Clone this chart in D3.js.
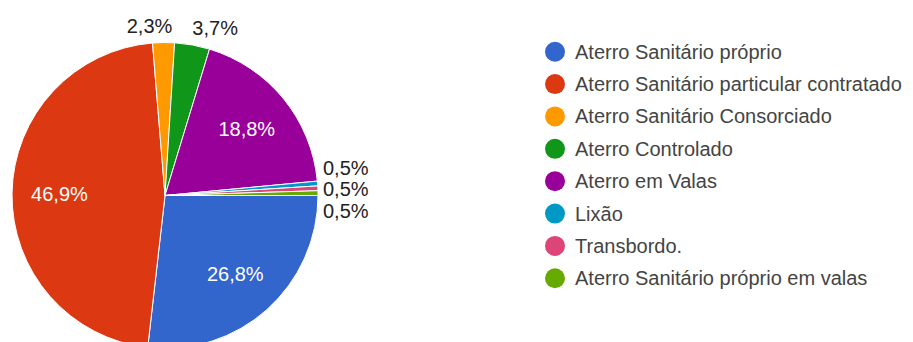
<!DOCTYPE html>
<html>
<head>
<meta charset="utf-8">
<script src="https://cdn.jsdelivr.net/npm/d3@7/dist/d3.min.js"></script>
<style>
  html, body { margin: 0; padding: 0; background: #ffffff; }
  svg { display: block; }
  text { font-family: "Liberation Sans", Arial, sans-serif; }
</style>
</head>
<body>
<svg id="chart" width="913" height="342"></svg>
<script>
const categories = [
  "Aterro Sanitário próprio",
  "Aterro Sanitário particular contratado",
  "Aterro Sanitário Consorciado",
  "Aterro Controlado",
  "Aterro em Valas",
  "Lixão",
  "Transbordo.",
  "Aterro Sanitário próprio em valas"
];
const values = [26.8, 46.9, 2.3, 3.7, 18.8, 0.5, 0.5, 0.5];
const labels = ["26,8%", "46,9%", "2,3%", "3,7%", "18,8%", "0,5%", "0,5%", "0,5%"];
const colors = ["#3366cc", "#dc3912", "#ff9900", "#109618", "#990099", "#0099c6", "#dd4477", "#66aa00"];

const svg = d3.select("#chart");
const cx = 165, cy = 195.5, R = 153;

const pie = d3.pie().sort(null).value(d => d)
  .startAngle(Math.PI / 2).endAngle(Math.PI / 2 + 2 * Math.PI);
const arcs = pie(values);
const arc = d3.arc().innerRadius(0).outerRadius(R);
const inArc = d3.arc().innerRadius(R * 0.69).outerRadius(R * 0.69);
const outArc = d3.arc().innerRadius(R + 17).outerRadius(R + 17);

const g = svg.append("g").attr("transform", `translate(${cx},${cy})`);

g.selectAll("path.slice").data(arcs).enter().append("path")
  .attr("class", "slice")
  .attr("d", arc)
  .attr("fill", (d, i) => colors[i])
  .attr("stroke", "#ffffff")
  .attr("stroke-width", 1);

const fontSize = 20;
// inside labels for big slices
const bigIdx = arcs.map((d, i) => i).filter(i => values[i] >= 10);
g.selectAll("text.inlab").data(bigIdx).enter().append("text")
  .attr("class", "inlab")
  .attr("x", i => inArc.centroid(arcs[i])[0])
  .attr("y", i => inArc.centroid(arcs[i])[1])
  .attr("text-anchor", "middle")
  .attr("dominant-baseline", "central")
  .attr("fill", "#ffffff")
  .attr("font-size", fontSize)
  .text(i => labels[i]);

// outside labels for medium slices (near top), repelled horizontally
const midIdx = arcs.map((d, i) => i).filter(i => values[i] < 10 && values[i] >= 1);
const midPos = midIdx.map(i => {
  const c = outArc.centroid(arcs[i]);
  return { i, x: c[0], y: c[1], w: labels[i].length * 11.4 };
});
midPos.sort((a, b) => a.x - b.x);
for (let k = 1; k < midPos.length; k++) {
  const a = midPos[k - 1], b = midPos[k];
  const need = (a.w + b.w) / 2 + 20;
  const gap = b.x - a.x;
  if (gap < need) {
    const sh = (need - gap) / 2;
    a.x -= sh; b.x += sh;
  }
}
g.selectAll("text.midlab").data(midPos).enter().append("text")
  .attr("class", "midlab")
  .attr("x", d => d.x + 3)
  .attr("y", d => d.y)
  .attr("text-anchor", "middle")
  .attr("dominant-baseline", "central")
  .attr("fill", "#222222")
  .attr("font-size", fontSize)
  .text(d => labels[d.i]);

// tiny slices: stacked labels on the right
const tinyIdx = arcs.map((d, i) => i).filter(i => values[i] < 1);
const midTiny = tinyIdx[Math.floor(tinyIdx.length / 2)];
const baseY = arc.centroid(arcs[midTiny])[1] * 2 + 1;
const step = 21.5;
g.selectAll("text.tinylab").data(tinyIdx).enter().append("text")
  .attr("class", "tinylab")
  .attr("x", R + 5)
  .attr("y", (i, k) => baseY + (k - (tinyIdx.length - 1) / 2) * step)
  .attr("text-anchor", "start")
  .attr("dominant-baseline", "central")
  .attr("fill", "#222222")
  .attr("font-size", fontSize)
  .text(i => labels[i]);

// legend
const legendY = d3.scalePoint().domain(d3.range(categories.length)).range([51.7, 278.3]);
const lg = svg.append("g");
const rows = lg.selectAll("g.row").data(categories).enter().append("g")
  .attr("class", "row")
  .attr("transform", (d, i) => `translate(555,${legendY(i)})`);
rows.append("circle").attr("r", 10).attr("fill", (d, i) => colors[i]);
rows.append("text")
  .attr("x", 20)
  .attr("y", 0)
  .attr("dominant-baseline", "central")
  .attr("fill", "#444444")
  .attr("font-size", fontSize)
  .text(d => d);
</script>
</body>
</html>
